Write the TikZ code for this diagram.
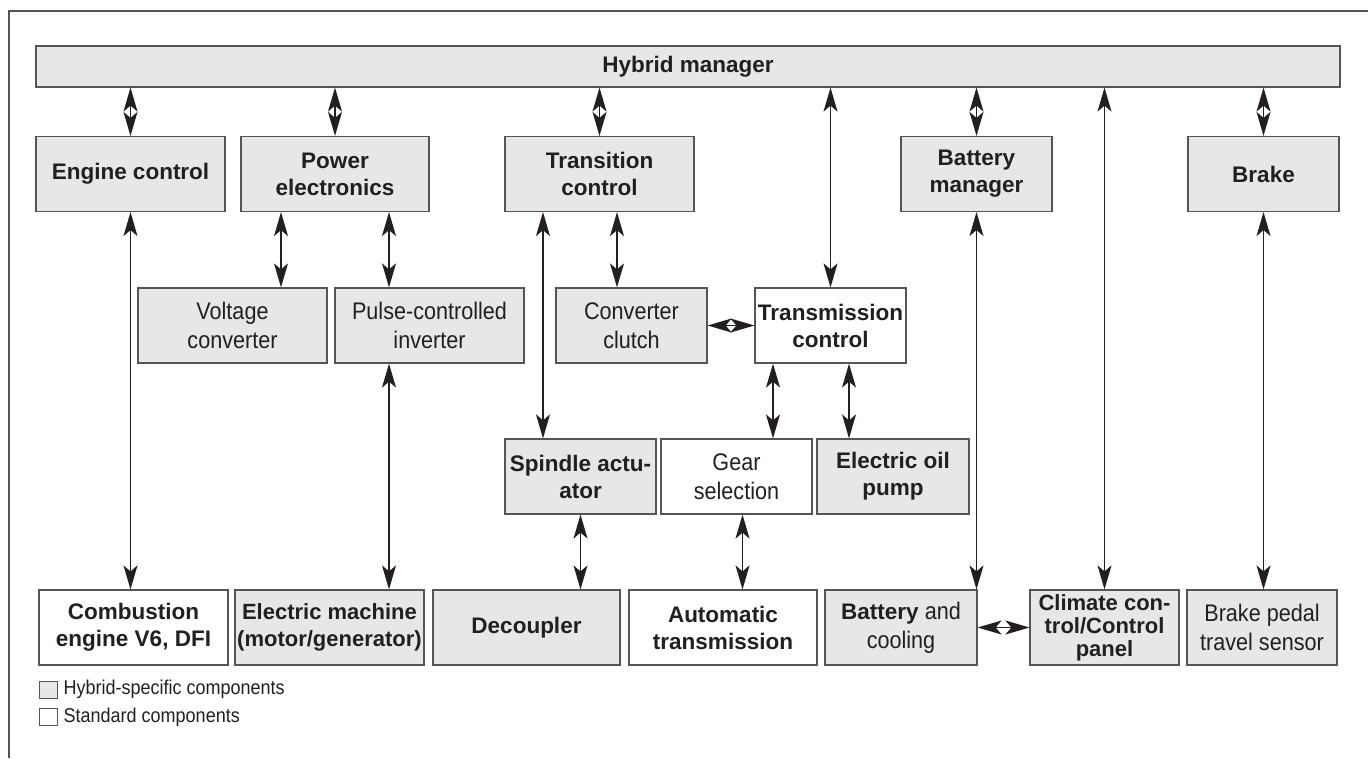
\documentclass[tikz,border=0pt]{standalone}
\usepackage{fontspec}
\setmainfont{Liberation Sans}
\newfontfamily\lightfam{Liberation Sans}[FakeStretch=0.9]
\definecolor{hybridGray}{RGB}{230, 231, 232}
\definecolor{boxLine}{RGB}{85, 85, 85}
\definecolor{inkBlack}{RGB}{35, 31, 32}
\usetikzlibrary{arrows.meta, calc}

\newcommand{\boldlbl}{\normalfont\fontsize{22.5}{27}\selectfont\bfseries}
\newcommand{\lightlbl}{\lightfam\fontsize{24}{29}\selectfont}
\newcommand{\legendlbl}{\lightfam\fontsize{20}{24}\selectfont}

\begin{document}
\begin{tikzpicture}[x=1pt, y=-1pt,
    comp/.style={draw=boxLine, fill=hybridGray, line width=1.2pt, minimum height=75pt,
      inner sep=1pt, align=center, text=inkBlack, font=\boldlbl},
    stdcomp/.style={comp, fill=white},
    light/.style={font=\lightlbl},
    link/.style={{Stealth[length=24pt, width=14pt, inset=6pt]}-{Stealth[length=24pt, width=14pt, inset=6pt]},
      line width=1.4pt, draw=inkBlack}]
    \useasboundingbox (0,0) rectangle (1368,758);
    % frame, top and left side only
    \draw[boxLine, line width=1.5pt] (9,758) -- (9,11) -- (1368,11);

    % Hybrid manager
    \node[comp, minimum width=1304pt, minimum height=41pt] (hm) at (688,66.5) {Hybrid manager};

    % Control units
    \node[comp, minimum width=189pt] (ec) at (130.5,174) {Engine control};
    \node[comp, minimum width=188pt] (pe) at (335,174) {Power\\electronics};
    \node[comp, minimum width=189pt] (tc) at (599.5,174) {Transition\\control};
    \node[comp, minimum width=151pt] (bm) at (976.5,174) {Battery\\manager};
    \node[comp, minimum width=151pt] (br) at (1263.5,174) {Brake};

    % Second level
    \node[comp, light, minimum width=189pt] (vc) at (232.5,325.5) {Voltage\\converter};
    \node[comp, light, minimum width=189pt] (pci) at (429.5,325.5) {Pulse-controlled\\inverter};
    \node[comp, light, minimum width=151pt] (cc) at (631.5,325.5) {Converter\\clutch};
    \node[stdcomp, minimum width=151pt] (tm) at (830.5,325.5) {Transmission\\control};

    % Actuators
    \node[comp, minimum width=151pt] (sa) at (580.5,476.5) {Spindle actu-\\ator};
    \node[stdcomp, light, minimum width=151pt] (gs) at (736.5,476.5) {Gear\\selection};
    \node[comp, minimum width=152pt] (op) at (893,476.5) {Electric oil\\pump};

    % Components
    \node[stdcomp, minimum width=189pt] (ce) at (133.5,627.5) {Combustion\\engine V6, DFI};
    \node[comp, minimum width=189pt, font={\normalfont\fontsize{22}{27}\selectfont\bfseries}] (em) at (329.5,627.5) {Electric machine\\(motor/generator)};
    \node[comp, minimum width=187pt] (dc) at (526.5,627.5) {Decoupler};
    \node[stdcomp, minimum width=188pt] (atr) at (723,627.5) {Automatic\\transmission};
    \node[comp, light, minimum width=152pt] (bc) at (901,627.5) {{\boldlbl Battery} and\\cooling};
    \node[comp, minimum width=149pt, font={\normalfont\fontsize{22}{23}\selectfont\bfseries}] (cl) at (1104.5,627.5) {Climate con-\\trol/Control\\panel};
    \node[comp, light, minimum width=150pt] (bp) at (1262,627.5) {Brake pedal\\travel sensor};

    % Links to the hybrid manager
    \foreach \n in {ec, pe, tc, bm, br, tm, cl} {
      \draw[link] (hm.south -| \n) -- (\n.north);
    }

    % Links downwards
    \coordinate (pv) at ([xshift=-54pt]pe.south);
    \coordinate (pp) at ([xshift=54pt]pe.south);
    \coordinate (ts) at ([xshift=-56.5pt]tc.south);
    \coordinate (tk) at ([xshift=17.5pt]tc.south);
    \coordinate (mg) at ([xshift=-57.5pt]tm.south);
    \coordinate (mo) at ([xshift=18.5pt]tm.south);
    \coordinate (ga) at ([xshift=6pt]gs.south);
    \draw[link] (ec.south) -- (ec.south |- ce.north);
    \draw[link] (pv) -- (pv |- vc.north);
    \draw[link] (pp) -- (pp |- pci.north);
    \draw[link] (pp |- pci.south) -- (pp |- em.north);
    \draw[link] (ts) -- (ts |- sa.north);
    \draw[link] (tk) -- (tk |- cc.north);
    \draw[link] (cc.east) -- (tm.west);
    \draw[link] (mg) -- (mg |- gs.north);
    \draw[link] (mo) -- (mo |- op.north);
    \draw[link] (sa.south) -- (sa.south |- dc.north);
    \draw[link] (ga) -- (ga |- atr.north);
    \draw[link] (bm.south) -- (bm.south |- bc.north);
    \draw[link] (br.south) -- (br.south |- bp.north);
    \draw[link] (bc.east) -- (cl.west);

    % Legend
    \node[draw=boxLine, fill=hybridGray, line width=1pt, minimum width=18pt, minimum height=17pt, inner sep=0pt] (lh) at (48,689.5) {};
    \node[draw=boxLine, fill=white, line width=1pt, minimum width=18pt, minimum height=17pt, inner sep=0pt] (ls) at (48,717) {};
    \node[anchor=west, inner sep=0pt, text=inkBlack, font=\legendlbl] (lht) at ([xshift=6pt]lh.east) {Hybrid-specific components};
    \node[anchor=west, inner sep=0pt, text=inkBlack, font=\legendlbl] (lst) at ([xshift=6pt]ls.east) {Standard components};
\end{tikzpicture}
\end{document}
